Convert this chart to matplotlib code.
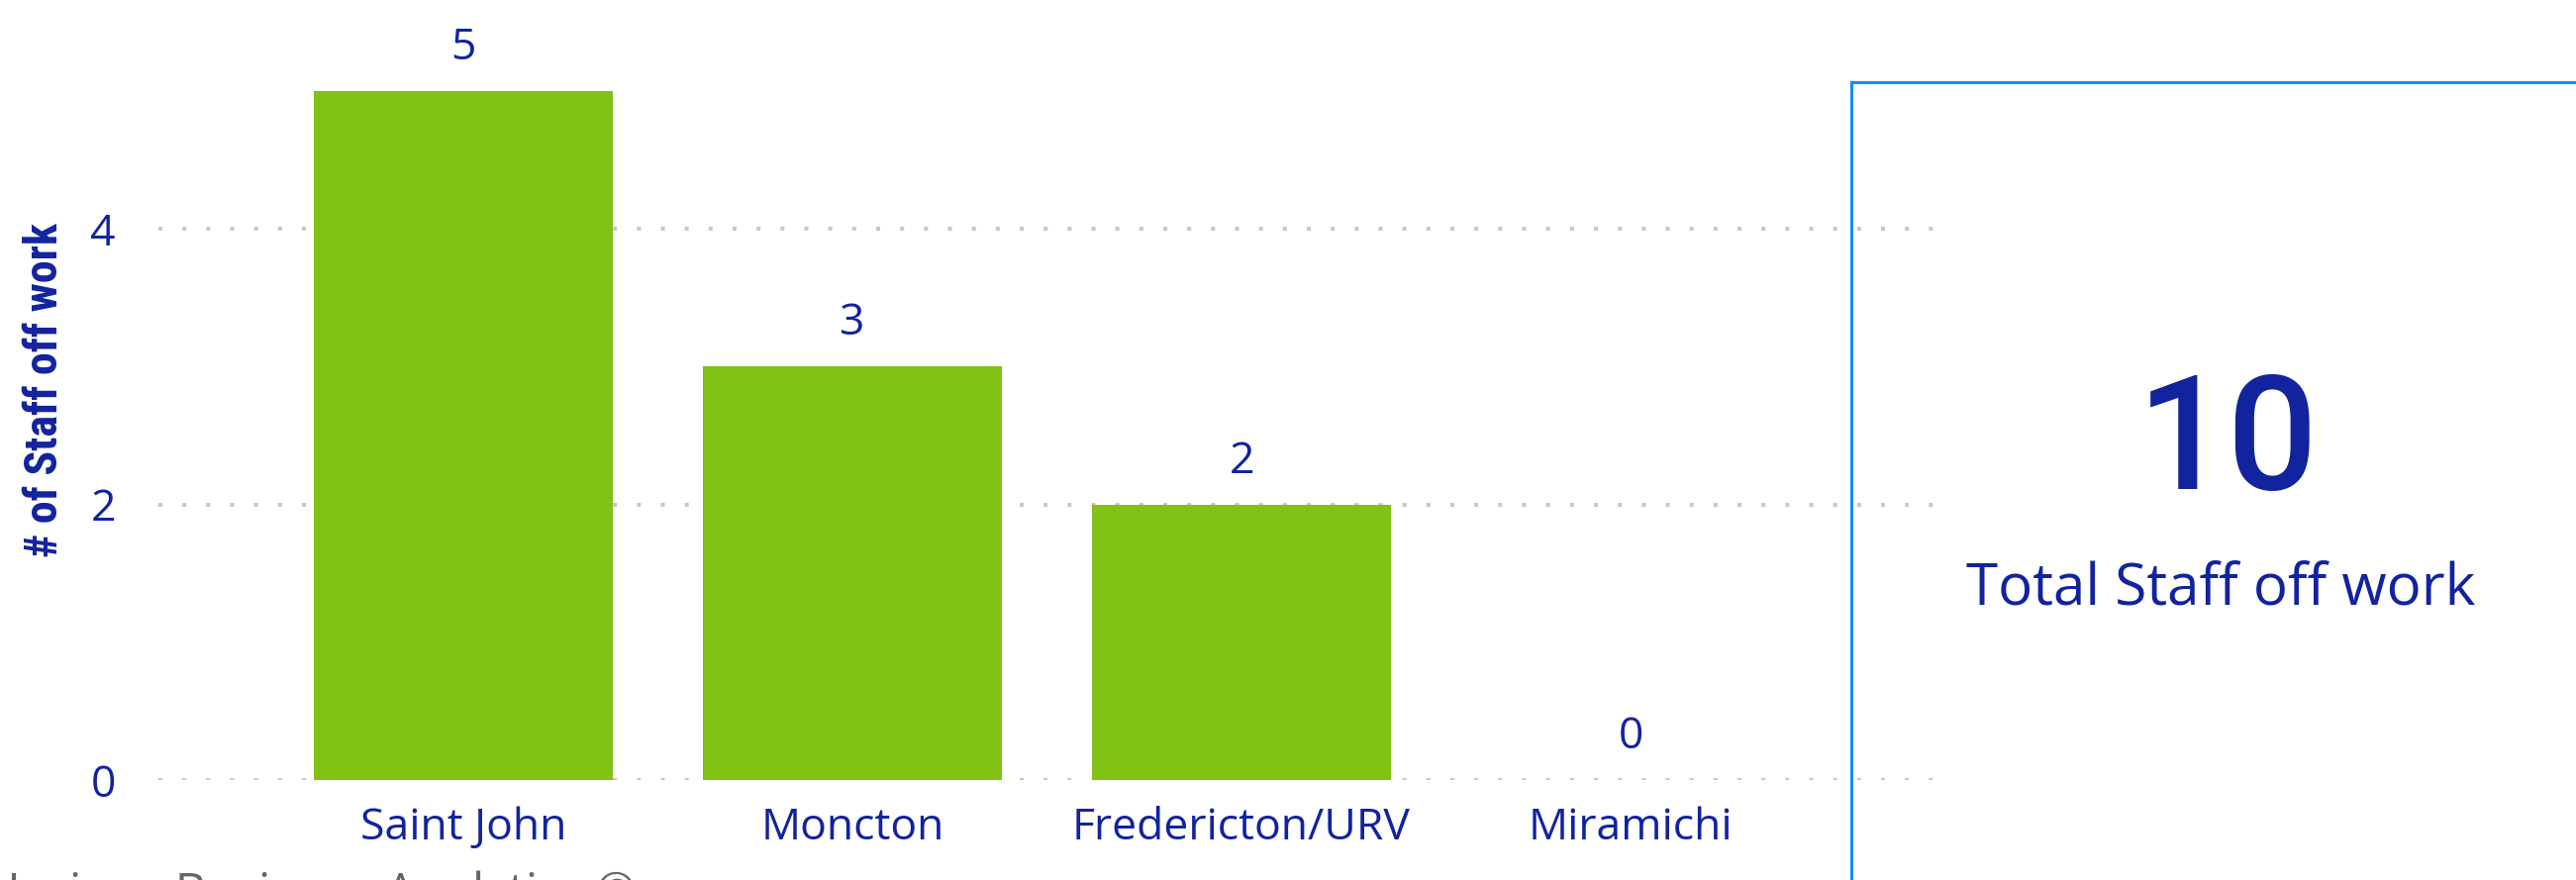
import matplotlib
matplotlib.use("Agg")
import matplotlib.pyplot as plt
from matplotlib.patches import Rectangle

# data
CITIES = ["Saint John", "Moncton", "Fredericton/URV", "Miramichi"]
STAFF_OFF = [5, 3, 2, 0]
Y_TICKS = [0, 2, 4]
TOTAL_LABEL = "Total Staff off work"
Y_TITLE = "# of Staff off work"
FOOTER = "Horizon Business Analytics \u00a9"

# colours
BAR_GREEN = "#82C115"
TEXT_BLUE = "#12239E"
GRID_GREY = "#C8C8C8"
CARD_BLUE = "#118DFF"
FOOTER_GREY = "#666666"

W, H = 2602, 889
plt.rcParams["font.family"] = ["Open Sans", "DejaVu Sans"]

fig = plt.figure(figsize=(W / 100, H / 100), dpi=100)

# plot area, pixel based so it lines up with the report layout
ax = fig.add_axes([160 / W, 101 / H, 1803 / W, 788 / H])
x = range(len(CITIES))
ax.bar(x, STAFF_OFF, width=0.77, color=BAR_GREEN, zorder=2)
ax.set_xlim(-0.784, 3.804)
ax.set_ylim(0, 5.66)

ax.set_xticks(list(x))
ax.set_xticklabels(CITIES)
ax.set_yticks(Y_TICKS)
ax.tick_params(axis="x", length=0, pad=19, labelsize=32, labelcolor=TEXT_BLUE)
ax.tick_params(axis="y", length=0, pad=31, labelsize=32, labelcolor=TEXT_BLUE)

ax.grid(axis="y", color=GRID_GREY, linewidth=2.9, linestyle=(0, (1, 5)))
ax.grid(axis="x", visible=False)
ax.set_axisbelow(True)
for s in ax.spines.values():
    s.set_visible(False)

# data labels
for i, v in enumerate(STAFF_OFF):
    ax.annotate(str(v), (i, v), xytext=(0, 23), textcoords="offset points",
                ha="center", va="baseline", fontsize=32, color=TEXT_BLUE,
                annotation_clip=False)

# y axis title, condensed bold; size fitted to ~338px length
ytitle = fig.text(45 / W, 1 - 394 / H, Y_TITLE, rotation=90, ha="center", va="center",
                  fontsize=30, fontweight="bold", color=TEXT_BLUE,
                  family=["Roboto Condensed", "DejaVu Sans"])
fig.canvas.draw()
ext = ytitle.get_window_extent(fig.canvas.get_renderer())
ytitle.set_fontsize(30 * 338 / ext.height)

# card on the right
card = Rectangle((1870 / W, -0.1), 0.5, (H - 83) / H + 0.1, transform=fig.transFigure,
                 fill=False, edgecolor=CARD_BLUE, linewidth=2.2)
fig.add_artist(card)
fig.text(2250 / W, 1 - 494 / H, str(sum(STAFF_OFF)), ha="center", va="baseline",
         fontsize=116, fontweight="medium", color=TEXT_BLUE,
         family=["Roboto", "DejaVu Sans"])
fig.text(2243 / W, 1 - 612 / H, TOTAL_LABEL, ha="center", va="baseline",
         fontsize=42, color=TEXT_BLUE)

# footer, cut off by the bottom edge (only the tops show)
fig.text(-15 / W, 1 - 917 / H, FOOTER, ha="left", va="baseline",
         fontsize=35, color=FOOTER_GREY)

fig.savefig("out.png", dpi=100)
